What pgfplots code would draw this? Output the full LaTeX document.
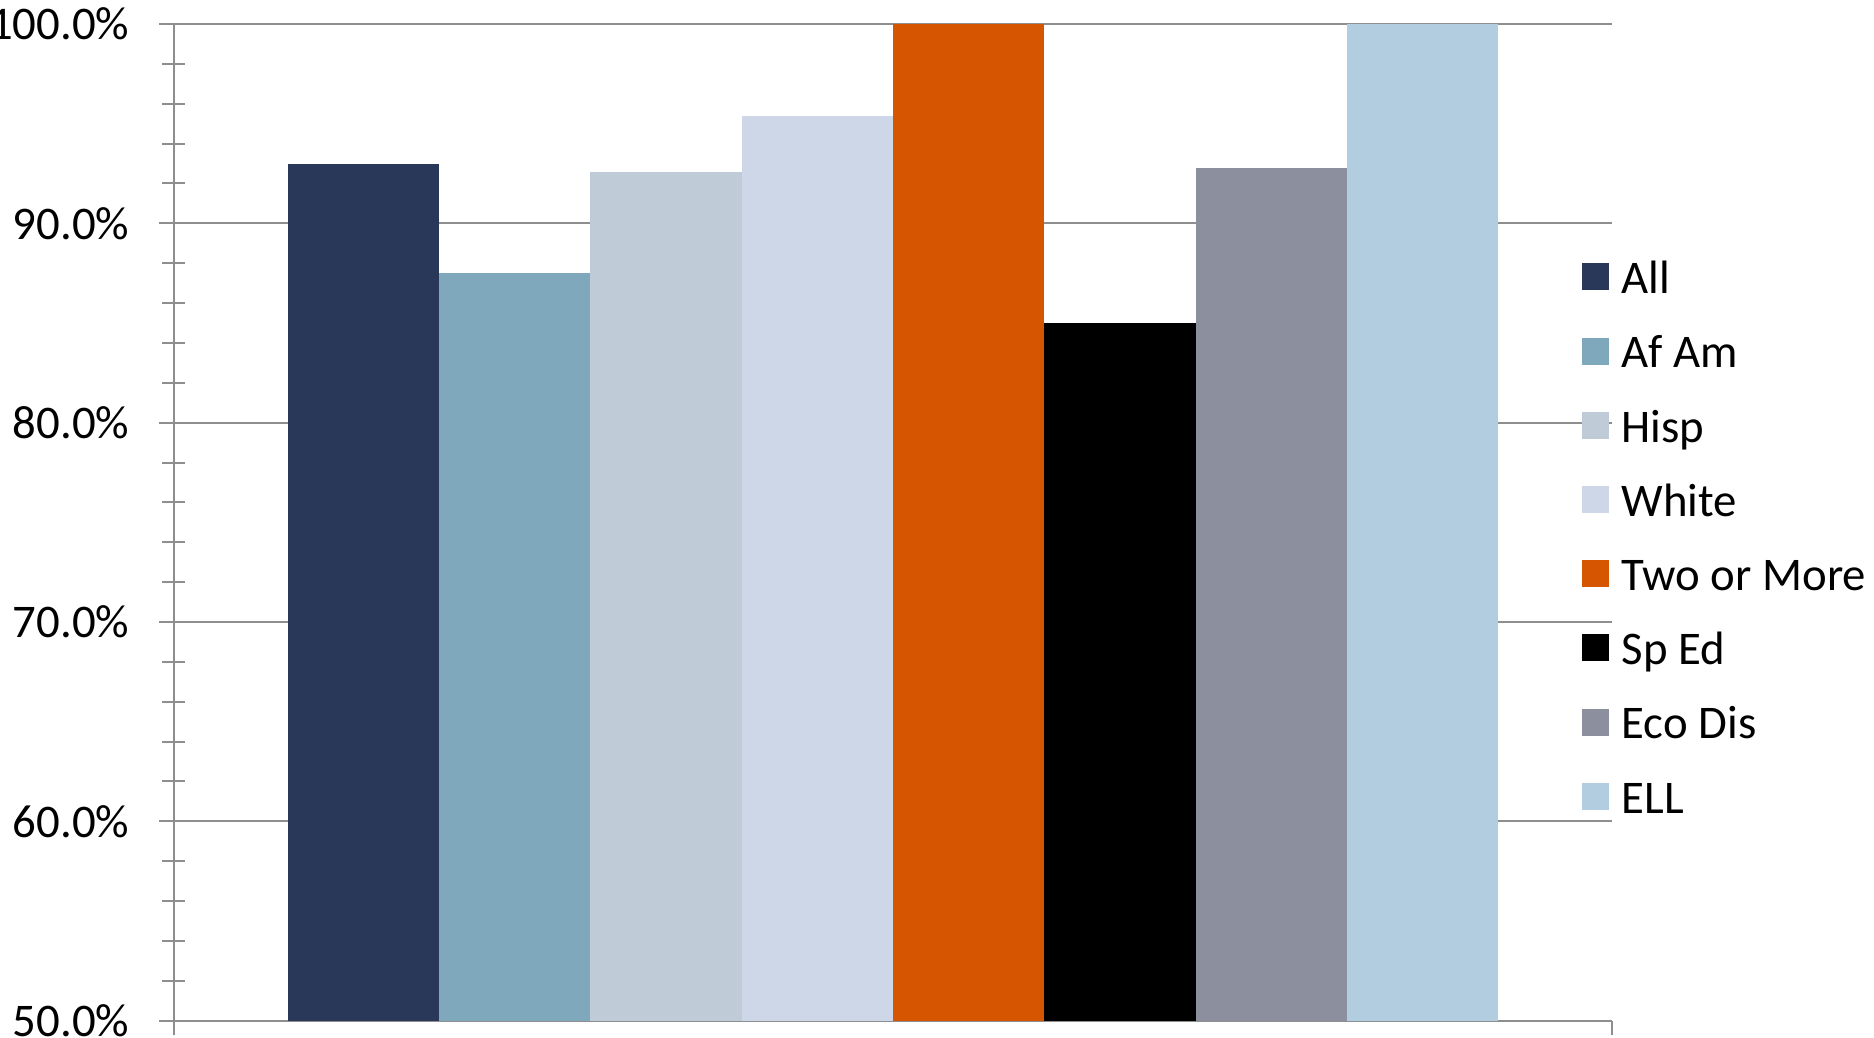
\documentclass[border=0pt]{standalone}
\usepackage{pgfplots}
\pgfplotsset{compat=1.18}
\usepackage{fontspec}
\setmainfont{Carlito}
\definecolor{cAll}{HTML}{293859}
\definecolor{cAfAm}{HTML}{7FA8BD}
\definecolor{cHisp}{HTML}{BFCCD8}
\definecolor{cWhite}{HTML}{CED7E8}
\definecolor{cTwo}{HTML}{D65500}
\definecolor{cSpEd}{HTML}{000000}
\definecolor{cEco}{HTML}{8C8F9E}
\definecolor{cELL}{HTML}{B3CDE0}
\definecolor{gridgray}{HTML}{8E8E8E}
\begin{document}
\begin{tikzpicture}
\begin{axis}[
  name=ax,
  scale only axis,
  width=359.5pt, height=249.175pt,
  xmin=-1.25, xmax=8.25,
  ymin=50, ymax=100,
  axis lines*=left,
  axis line style={draw=gridgray, line width=0.5pt},
  xtick={-1.25,8.25}, xticklabels={},
  ytick={50,60,70,80,90,100},
  minor ytick={52,54,56,58,62,64,66,68,72,74,76,78,82,84,86,88,92,94,96,98},
  tick align=outside,
  major tick length=3.7pt,
  minor tick length=5.75pt,
  every tick/.style={draw=gridgray, line width=0.5pt},
  minor y tick style={xshift=2.875pt},
  ymajorgrids=true,
  major grid style={draw=gridgray, line width=0.5pt},
  /pgf/number format/assume math mode=true,
  yticklabel={\pgfmathprintnumber[fixed,fixed zerofill,precision=1]{\tick}\%},
  yticklabel style={font=\fontsize{11.7}{14}\selectfont, inner sep=0pt, xshift=-7.25pt},
  legend cell align=left,
  legend style={draw=none, fill=none, inner sep=0pt, outer sep=0pt,
    at={(axis description cs:0.9791,0.7655)}, anchor=north west,
    row sep=6.55pt, column sep=3.2pt,
    font=\fontsize{11.7}{14}\selectfont,
    nodes={inner sep=0pt, outer sep=0pt, text height=9pt, text depth=3pt}},
  legend image code/.code={\fill[#1] (0pt,-2.175pt) rectangle (6.75pt,4.575pt);},
]
\addplot[ybar, bar width=1, bar shift=0pt, fill=cAll, draw=none] coordinates {(0,93.0)};
\addlegendentry{All}
\addplot[ybar, bar width=1, bar shift=0pt, fill=cAfAm, draw=none] coordinates {(1,87.5)};
\addlegendentry{Af Am}
\addplot[ybar, bar width=1, bar shift=0pt, fill=cHisp, draw=none] coordinates {(2,92.6)};
\addlegendentry{Hisp}
\addplot[ybar, bar width=1, bar shift=0pt, fill=cWhite, draw=none] coordinates {(3,95.4)};
\addlegendentry{White}
\addplot[ybar, bar width=1, bar shift=0pt, fill=cTwo, draw=none] coordinates {(4,100.0)};
\addlegendentry{Two or More}
\addplot[ybar, bar width=1, bar shift=0pt, fill=cSpEd, draw=none] coordinates {(5,85.0)};
\addlegendentry{Sp Ed}
\addplot[ybar, bar width=1, bar shift=0pt, fill=cEco, draw=none] coordinates {(6,92.8)};
\addlegendentry{Eco Dis}
\addplot[ybar, bar width=1, bar shift=0pt, fill=cELL, draw=none] coordinates {(7,100.0)};
\addlegendentry{ELL}
\end{axis}
\pgfresetboundingbox
\useasboundingbox ([xshift=-43.5pt,yshift=-4.325pt]ax.south west) rectangle ++(468.5pt,259.5pt);
\end{tikzpicture}
\end{document}
